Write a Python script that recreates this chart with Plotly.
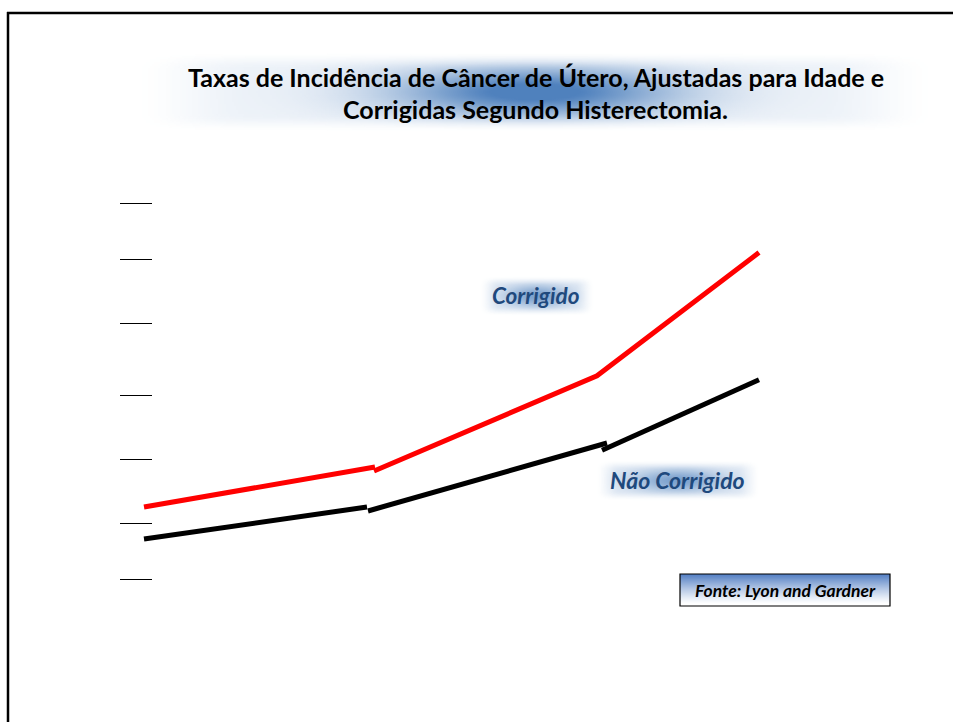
import base64
import struct
import zlib

import numpy as np
import plotly.graph_objects as go

# ---------------- data ----------------
tick_values = [0, 7, 15, 23, 32, 40, 47]

# "Corrigido" series, drawn as hand-joined segments (as in the reference)
red_seg1_x = [0.0, 23.1]
red_seg1_y = [9.0, 14.0]
red_seg2_x = [23.0, 45.3, 61.5]
red_seg2_y = [13.5, 25.4, 40.8]

# "Não Corrigido" series
black_seg1_x = [0.0, 22.3]
black_seg1_y = [5.0, 9.0]
black_seg2_x = [22.4, 46.3]
black_seg2_y = [8.5, 17.0]
black_seg3_x = [45.8, 61.5]
black_seg3_y = [16.1, 24.9]

title_line1 = "Taxas de Incidência de Câncer de Útero, Ajustadas para Idade e"
title_line2 = "Corrigidas Segundo Histerectomia."
label_corr = "Corrigido"
label_nao = "Não Corrigido"
source_text = "Fonte: Lyon and Gardner"

# ---------------- helpers ----------------
W, H = 953, 722


def px(x):
    return x / W


def py(y):
    return 1 - y / H


def png_uri(arr):
    h, w, _ = arr.shape
    raw = b"".join(b"\x00" + arr[i].tobytes() for i in range(h))

    def chunk(tag, data):
        c = struct.pack(">I", len(data)) + tag + data
        return c + struct.pack(">I", zlib.crc32(tag + data) & 0xFFFFFFFF)

    png = b"\x89PNG\r\n\x1a\n"
    png += chunk(b"IHDR", struct.pack(">IIBBBBB", w, h, 8, 6, 0, 0, 0))
    png += chunk(b"IDAT", zlib.compress(raw, 9))
    png += chunk(b"IEND", b"")
    return "data:image/png;base64," + base64.b64encode(png).decode()


def glow(w, h, rx, ry, base, peak, ex, ey, color=(79, 129, 189)):
    xs = np.linspace(-1, 1, w)
    ys = np.linspace(-1, 1, h)
    u, v = np.meshgrid(xs, ys)
    mx = np.clip((1 - np.abs(u)) / ex, 0, 1)
    my = np.clip((1 - np.abs(v)) / ey, 0, 1)
    mx = mx * mx * (3 - 2 * mx)
    my = my * my * (3 - 2 * my)
    g = np.exp(-((u / rx) ** 2 + (v / ry) ** 2))
    a = mx * my * (base + peak * g)
    a = np.clip(a, 0, 1)
    img = np.zeros((h, w, 4), dtype=np.uint8)
    img[..., 0] = color[0]
    img[..., 1] = color[1]
    img[..., 2] = color[2]
    img[..., 3] = (a * 255).astype(np.uint8)
    return png_uri(img)


def vgrad(w, h, color=(84, 128, 196)):
    t = np.linspace(0, 1, h)[:, None] * np.ones((1, w))
    a = np.clip(1 - t / 0.95, 0, 1) ** 1.2
    img = np.zeros((h, w, 4), dtype=np.uint8)
    img[..., 0] = color[0]
    img[..., 1] = color[1]
    img[..., 2] = color[2]
    img[..., 3] = (a * 255).astype(np.uint8)
    return png_uri(img)


def place_image(src, x0, y0, x1, y1):
    return dict(source=src, xref="paper", yref="paper", x=px(x0), y=py(y0),
                sizex=px(x1) - px(x0), sizey=py(y0) - py(y1),
                xanchor="left", yanchor="top", sizing="stretch", layer="below")


# ---------------- figure ----------------
fig = go.Figure()

red = dict(color="#ff0000", width=5)
blk = dict(color="#000000", width=5)
for xs, ys, ln, nm in [
    (red_seg1_x, red_seg1_y, red, label_corr),
    (red_seg2_x, red_seg2_y, red, label_corr),
    (black_seg1_x, black_seg1_y, blk, label_nao),
    (black_seg2_x, black_seg2_y, blk, label_nao),
    (black_seg3_x, black_seg3_y, blk, label_nao),
]:
    fig.add_trace(go.Scatter(x=xs, y=ys, mode="lines", line=ln, name=nm,
                             showlegend=False, hoverinfo="skip"))

fig.update_layout(
    width=W, height=H,
    margin=dict(l=0, r=0, t=0, b=0),
    paper_bgcolor="white", plot_bgcolor="rgba(0,0,0,0)",
    showlegend=False,
    xaxis=dict(domain=[px(124), px(784)], range=[-2, 64], visible=False),
    yaxis=dict(domain=[py(600), py(170)], range=[-2.625, 51.125],
               anchor="free", position=px(152),
               tickmode="array", tickvals=tick_values, ticks="outside",
               ticklen=32, tickwidth=1.2, tickcolor="black",
               showticklabels=False, showgrid=False, zeroline=False,
               showline=False),
)

images = [
    place_image(glow(410, 40, 0.34, 0.6, 0.10, 1.0, 0.30, 0.45), 125, 50, 945, 134),
    place_image(glow(120, 44, 0.55, 0.55, 0.15, 0.6, 0.35, 0.5), 478, 275, 596, 317),
    place_image(glow(180, 44, 0.55, 0.55, 0.15, 0.6, 0.30, 0.5), 594, 459, 762, 502),
    place_image(vgrad(60, 32), 680, 574, 890, 606),
]
fig.update_layout(images=images)

shapes = [
    # slide frame
    dict(type="line", xref="paper", yref="paper", x0=px(8), x1=px(8),
         y0=py(12), y1=py(730), line=dict(color="black", width=2.5)),
    dict(type="line", xref="paper", yref="paper", x0=px(7), x1=px(960),
         y0=py(13), y1=py(13), line=dict(color="black", width=2.5)),
    # source box border
    dict(type="rect", xref="paper", yref="paper", x0=px(680), x1=px(890),
         y0=py(574), y1=py(606), line=dict(color="black", width=1.2)),
]
fig.update_layout(shapes=shapes)

title_font = dict(family="Lato", size=25, color="black")
label_font = dict(family="Lato", size=22.5, color="#1F497D")
ann = [
    dict(text="<b>" + title_line1 + "</b>", x=px(536), y=py(77), font=title_font),
    dict(text="<b>" + title_line2 + "</b>", x=px(535), y=py(109), font=title_font),
    dict(text="<b><i>" + label_corr + "</i></b>", x=px(536), y=py(295), font=label_font),
    dict(text="<b><i>" + label_nao + "</i></b>", x=px(677), y=py(480),
         font=dict(family="Lato", size=23, color="#1F497D")),
    dict(text="<b><i>" + source_text + "</i></b>", x=px(785), y=py(590),
         font=dict(family="Lato", size=17.5, color="black")),
]
for a in ann:
    a.update(xref="paper", yref="paper", showarrow=False,
             xanchor="center", yanchor="middle")
fig.update_layout(annotations=ann)

fig.write_html("out.html", config={"displayModeBar": False},
               post_script="document.body.style.margin='0';document.body.style.padding='0';")
